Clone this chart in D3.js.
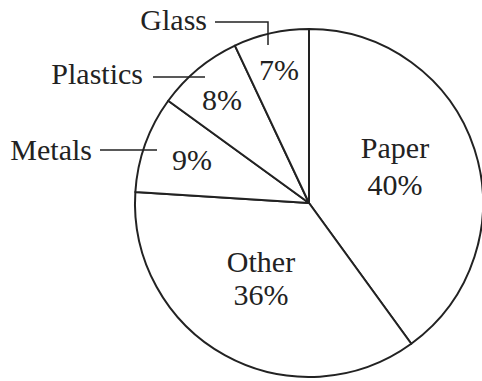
<!DOCTYPE html>
<html><head><meta charset="utf-8">
<script src="https://cdn.jsdelivr.net/npm/d3@7"></script>
<style>body{margin:0;background:#fff}svg{display:block}text{font-family:"Liberation Serif","Times New Roman",serif;fill:#222}</style>
</head><body>
<script>
const categories = ["Paper","Other","Metals","Plastics","Glass"];
const values = [40, 36, 9, 8, 7];
const labels = ["40%","36%","9%","8%","7%"];

const W = 482, H = 381, cx = 309, cy = 203, R = 174;
const svg = d3.select("body").append("svg").attr("width", W).attr("height", H);
const g = svg.append("g").attr("transform", `translate(${cx},${cy})`);
const pie = d3.pie().sort(null).value(d => d.v);
const arcs = pie(categories.map((c, i) => ({c, v: values[i], l: labels[i]})));
const arc = d3.arc().innerRadius(0).outerRadius(R);
g.selectAll("path").data(arcs).join("path")
  .attr("d", arc).attr("fill", "#fff").attr("stroke", "#222").attr("stroke-width", 2).attr("stroke-linejoin", "round");

const fs = 30;
// inside label placement (relative to centre): [x, nameBaseline | null, pctBaseline]
const inside = {
  Paper: [86, -45, -8],
  Other: [-48, 69, 102],
  Metals: [-117, null, -33],
  Plastics: [-87, null, -93],
  Glass: [-30, null, -123]
};
arcs.forEach(a => {
  const [x, yn, yp] = inside[a.data.c];
  if (yn !== null) g.append("text").attr("x", x).attr("y", yn).attr("text-anchor", "middle")
    .attr("font-size", fs).text(a.data.c);
  g.append("text").attr("x", x).attr("y", yp).attr("text-anchor", "middle")
    .attr("font-size", fs).text(a.data.l);
});
// outside labels with leader lines
const outside = [
  {c: "Glass", tx: 207, ty: 30, path: [[215, 22], [268, 22], [268, 45]]},
  {c: "Plastics", tx: 143, ty: 84, path: [[153, 77], [205, 77]]},
  {c: "Metals", tx: 92, ty: 160, path: [[100, 150], [157, 150]]}
];
outside.forEach(o => {
  svg.append("text").attr("x", o.tx).attr("y", o.ty).attr("text-anchor", "end")
    .attr("font-size", fs).text(o.c);
  svg.append("path").attr("d", d3.line()(o.path)).attr("fill", "none")
    .attr("stroke", "#222").attr("stroke-width", 1.5);
});
</script>
</body></html>
